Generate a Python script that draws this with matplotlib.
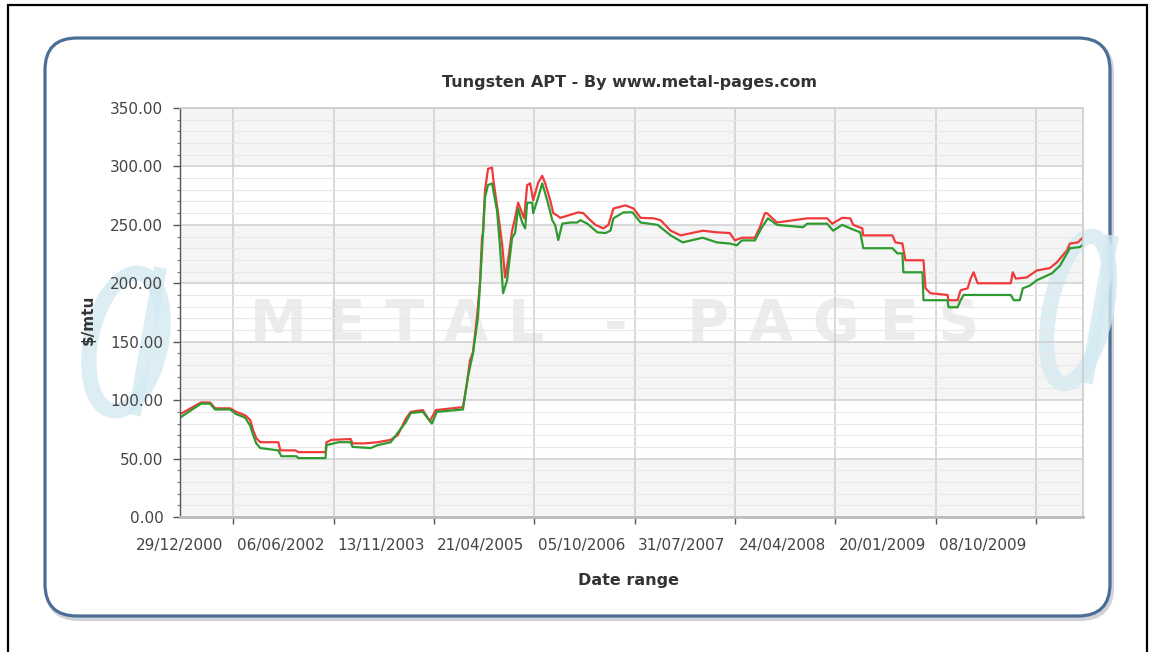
import numpy as np
import matplotlib
matplotlib.use('Agg')
import matplotlib.pyplot as plt
from matplotlib.patches import FancyBboxPatch, Rectangle, Ellipse
from matplotlib.transforms import IdentityTransform

W, H = 1154, 652

title = 'Tungsten APT - By www.metal-pages.com'
date_labels = ['29/12/2000', '06/06/2002', '13/11/2003', '21/04/2005', '05/10/2006',
               '31/07/2007', '24/04/2008', '20/01/2009', '08/10/2009']

# position along the date axis (one unit per date label), price in $/mtu
red_x = [0.00, 0.21, 0.30, 0.35, 0.50, 0.56, 0.65, 0.70, 0.73, 0.76, 0.80, 0.98, 1.00,
         1.15, 1.18, 1.45, 1.46, 1.51, 1.70, 1.72, 1.84, 1.97, 2.10, 2.17, 2.25, 2.30,
         2.42, 2.49, 2.55, 2.82, 2.86, 2.89, 2.92, 2.96, 2.99, 3.01, 3.02, 3.04, 3.07,
         3.11, 3.12, 3.17, 3.21, 3.24, 3.27, 3.31, 3.34, 3.37, 3.41, 3.43, 3.46, 3.49,
         3.52, 3.57, 3.61, 3.64, 3.69, 3.72, 3.76, 3.79, 3.97, 4.02, 4.07, 4.14, 4.22,
         4.27, 4.32, 4.44, 4.52, 4.59, 4.72, 4.79, 4.89, 4.99, 5.21, 5.35, 5.48, 5.53,
         5.60, 5.73, 5.78, 5.83, 5.85, 5.95, 6.25, 6.45, 6.50, 6.60, 6.68, 6.71, 6.80,
         6.81, 7.10, 7.13, 7.20, 7.23, 7.41, 7.43, 7.48, 7.65, 7.66, 7.75, 7.78, 7.85,
         7.88, 7.91, 7.95, 8.28, 8.30, 8.33, 8.44, 8.54, 8.67, 8.74, 8.84, 8.87, 8.95,
         8.99]
red_y = [88, 98, 98, 93, 93, 90, 87, 83, 74, 67.5, 64, 64, 57,
         57, 55.5, 55.5, 64, 66, 66.7, 63, 63, 64, 66, 70, 84, 90,
         91.5, 82, 91.5, 94, 114.5, 134, 141, 171, 200, 239, 243, 279.5, 298,
         299, 290.6, 260, 234, 205, 219.7, 245, 256, 269, 260, 255.6, 284, 285.5,
         271, 286, 292, 285.5, 271, 260, 258, 256, 260.7, 260, 255.6, 250, 247,
         250, 264, 266.7, 264, 256, 255.6, 254, 245, 241, 245, 243.6, 243, 236.7,
         239, 239, 248, 260, 260, 252, 255.6, 255.6, 251, 256, 255.6, 250, 247,
         241, 241, 235, 234, 219.7, 219.7, 195.7, 191.5, 190, 185.5, 185.5, 194, 195.7,
         204, 209.4, 200, 200, 209.4, 204, 205, 211, 213, 218, 228, 234, 235,
         238.5]

green_x = [0.00, 0.21, 0.30, 0.35, 0.50, 0.56, 0.65, 0.70, 0.73, 0.76, 0.80, 0.98, 1.01,
           1.16, 1.18, 1.45, 1.46, 1.58, 1.70, 1.72, 1.90, 1.97, 2.10, 2.25, 2.30, 2.42,
           2.51, 2.56, 2.82, 2.87, 2.92, 2.97, 3.01, 3.04, 3.07, 3.11, 3.16, 3.19, 3.22,
           3.26, 3.31, 3.34, 3.37, 3.41, 3.44, 3.46, 3.51, 3.52, 3.57, 3.61, 3.66, 3.71,
           3.74, 3.77, 3.81, 3.89, 3.96, 3.99, 4.06, 4.16, 4.24, 4.29, 4.32, 4.42, 4.51,
           4.59, 4.76, 4.89, 5.01, 5.21, 5.35, 5.48, 5.55, 5.60, 5.73, 5.80, 5.86, 5.95,
           6.21, 6.25, 6.45, 6.51, 6.60, 6.68, 6.78, 6.81, 7.10, 7.15, 7.20, 7.21, 7.40,
           7.41, 7.65, 7.66, 7.75, 7.78, 7.81, 8.28, 8.31, 8.37, 8.40, 8.47, 8.54, 8.69,
           8.77, 8.87, 8.97, 8.99]
green_y = [85, 97, 97, 92, 92, 88, 85, 78, 70, 63, 59, 57, 52,
           52, 50.4, 50.4, 61.5, 64, 64, 60, 59, 61.5, 64, 81, 89, 90,
           80, 90, 92, 120, 140, 171, 228, 273.5, 284, 285.5, 262, 231, 191.5,
           202.6, 239, 243, 264, 252, 247, 269, 269, 260, 273.5, 285.5, 271, 254,
           249.6, 237, 251, 252, 252, 254, 251, 243.6, 243, 245, 255.6, 260.7, 260.7,
           252, 250, 241, 235, 239, 235, 234, 232.5, 236.7, 236.7, 248, 255.6, 250,
           248, 251, 251, 245, 250, 247, 243.6, 230, 230, 225.6, 225.6, 209.4, 209.4,
           185.5, 185.5, 179.5, 179.5, 185.5, 190, 190, 185.5, 185.5, 195.7, 198, 202.6, 208.5,
           215, 230, 231, 232.5]

fig = plt.figure(figsize=(W / 100, H / 100), dpi=100)
pix = IdentityTransform()

# outer black frame and rounded blue panel
fig.add_artist(Rectangle((8, -10), 1139, H - 5 + 10, fill=False, ec='black', lw=1.6,
                         transform=pix, zorder=-6))
fig.add_artist(FancyBboxPatch((47, H - 619), 1065, 578, boxstyle='round,pad=0,rounding_size=32',
                              fc='none', ec='#d0d4d8', lw=3, transform=pix, zorder=-5))
fig.add_artist(FancyBboxPatch((45, H - 616), 1065, 578, boxstyle='round,pad=0,rounding_size=32',
                              fc='white', ec='#4a6e96', lw=2.3, transform=pix, zorder=-4))

ax = fig.add_axes([180 / W, (H - 517) / H, (1083 - 180) / W, (517 - 108) / H])
ax.set_facecolor('white')
ax.set_xlim(0, 9.0)
ax.set_ylim(0, 350)

for lo in (0, 100, 200, 300):
    ax.axhspan(lo, lo + 50, color='#f5f5f5', lw=0, zorder=0)

ax.set_yticks(np.arange(0, 351, 50))
ax.set_yticklabels(['%.2f' % v for v in np.arange(0, 351, 50)])
ax.set_yticks(np.arange(0, 351, 10), minor=True)
ax.set_xticks(np.arange(9) + 0.53)
ax.set_xticklabels([''] * 9)
ax.set_xticks(np.arange(9), minor=True)
ax.set_xticklabels(date_labels, minor=True)

ax.set_axisbelow('line')
ax.grid(True, which='major', axis='both', color='#cfcfcf', lw=1.1)
ax.grid(True, which='minor', axis='y', color='#e8e8e8', lw=0.8)

ax.tick_params(axis='y', which='major', length=5, width=1, color='#555555',
               labelsize=11, labelcolor='#444444', pad=7)
ax.tick_params(axis='y', which='minor', length=2.5, width=0.8, color='#777777')
ax.tick_params(axis='x', which='major', length=5, width=1, color='#555555', pad=2)
ax.tick_params(axis='x', which='minor', length=0, labelsize=11, labelcolor='#444444', pad=15)

for s in ('top', 'right'):
    ax.spines[s].set_color('#cccccc')
    ax.spines[s].set_linewidth(1.2)
ax.spines['bottom'].set_color('#bbbbbb')
ax.spines['bottom'].set_linewidth(2)
ax.spines['left'].set_color('#555555')
ax.spines['left'].set_linewidth(1)

# watermark text and logo shapes
ax.text(615, H - 325, 'M E T A L   -   P A G E S', transform=pix, ha='center', va='center',
        fontsize=41, fontweight='bold', color='#e9e9e9', alpha=0.85, zorder=1.1, clip_on=False)
logo = '#d4eaf2'
for cx, cy, w, h in ((126, 342, 70, 140), (1078, 310, 56, 150)):
    ax.add_patch(Ellipse((cx, H - cy), w, h, angle=-12, fill=False, ec=logo, lw=11,
                         transform=pix, zorder=1.0, clip_on=False, alpha=0.8))
    ax.add_patch(Rectangle((cx + 2, H - cy - 72), 13, 150, angle=-10, fc=logo, ec='none',
                           transform=pix, zorder=1.0, clip_on=False, alpha=0.8))

ax.plot(red_x, red_y, color='#f03a3a', lw=1.6, zorder=2, solid_joinstyle='round')
ax.plot(green_x, green_y, color='#2f9a2f', lw=1.6, zorder=2.1, solid_joinstyle='round')

fig.text(630 / W, 1 - 82 / H, title, ha='center', va='center', fontsize=11.5,
         fontweight='bold', color='#333333')
fig.text(629 / W, 1 - 580 / H, 'Date range', ha='center', va='center', fontsize=11.5,
         fontweight='bold', color='#333333')
fig.text(88 / W, 1 - 320 / H, r'\$/mtu', ha='center', va='center', rotation=90,
         fontsize=11, fontweight='bold', color='#333333')

fig.savefig('out.png', dpi=100)
